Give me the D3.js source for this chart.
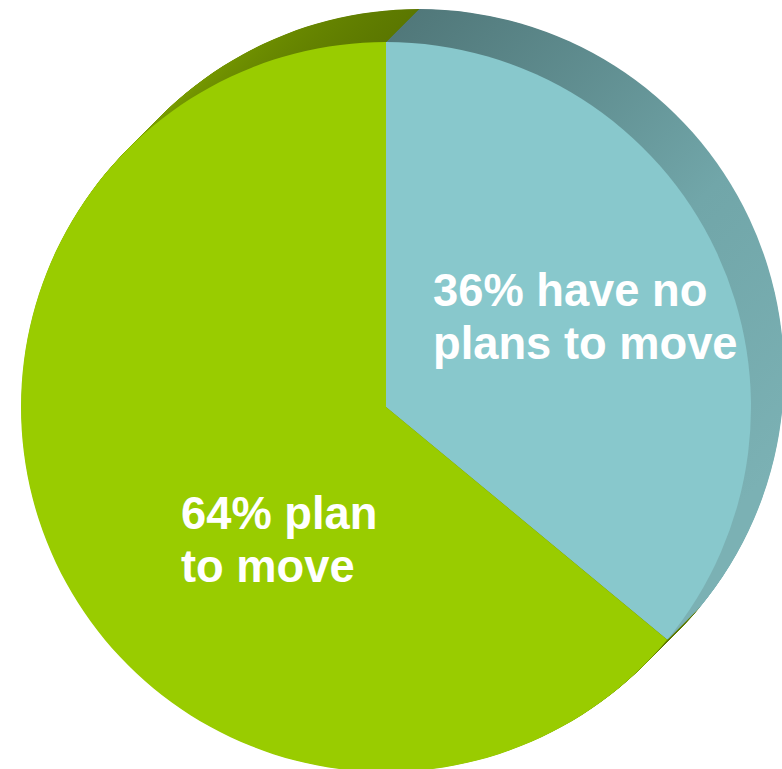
<!DOCTYPE html>
<html>
<head>
<meta charset="utf-8">
<script src="https://cdn.jsdelivr.net/npm/d3@7/dist/d3.min.js"></script>
<style>
  html, body { margin: 0; padding: 0; background: #ffffff; }
  svg { display: block; }
</style>
</head>
<body>
<svg id="chart" width="782" height="769"></svg>
<script>
// Data
const categories = ["have no plans to move", "plan to move"];
const values = [36, 64];
const labelLines = [
  ["36% have no", "plans to move"],
  ["64% plan", "to move"]
];
const frontColors = ["#88c8cc", "#99cc00"];

const W = 782, H = 769;
const cx = 386, cy = 407, R = 365;
const depth = 33;

const svg = d3.select("#chart");
const defs = svg.append("defs");

// side gradients (coordinates relative to the slice centre)
const gTeal = defs.append("linearGradient").attr("id", "sideTeal")
  .attr("gradientUnits", "userSpaceOnUse")
  .attr("x1", 20).attr("y1", -390).attr("x2", 380).attr("y2", 80);
gTeal.append("stop").attr("offset", "0%").attr("stop-color", "#507779");
gTeal.append("stop").attr("offset", "55%").attr("stop-color", "#71a6a9");
gTeal.append("stop").attr("offset", "100%").attr("stop-color", "#7bb1b4");

const gGreen = defs.append("linearGradient").attr("id", "sideGreen")
  .attr("gradientUnits", "userSpaceOnUse")
  .attr("x1", 20).attr("y1", -390).attr("x2", -260).attr("y2", -260);
gGreen.append("stop").attr("offset", "0%").attr("stop-color", "#587300");
gGreen.append("stop").attr("offset", "100%").attr("stop-color", "#7a9e00");

const sideFills = ["url(#sideTeal)", "url(#sideGreen)"];

const pie = d3.pie().sort(null).value(d => d).startAngle(0).endAngle(2 * Math.PI);
const arcs = pie(values);
const arc = d3.arc().innerRadius(0).outerRadius(R);

// extrusion layers (back to front)
const sideG = svg.append("g");
for (let i = depth; i >= 0.5; i -= 0.5) {
  const layer = sideG.append("g").attr("transform", `translate(${cx + i},${cy - i})`);
  layer.selectAll("path").data(arcs).join("path")
    .attr("d", arc)
    .attr("fill", (d, k) => sideFills[k]);
}

// front face
const front = svg.append("g").attr("transform", `translate(${cx},${cy})`);
front.selectAll("path").data(arcs).join("path")
  .attr("d", arc)
  .attr("fill", (d, k) => frontColors[k]);

// labels
const labelPos = [
  { x: 433, y: 306 },
  { x: 181, y: 529 }
];
const lineH = 53;
labelLines.forEach((lines, k) => {
  const t = svg.append("text")
    .attr("x", labelPos[k].x).attr("y", labelPos[k].y)
    .attr("fill", "#ffffff")
    .attr("font-family", "'Liberation Sans', Arial, sans-serif")
    .attr("font-weight", "bold")
    .attr("font-size", 45.3);
  lines.forEach((ln, j) => {
    t.append("tspan").attr("x", labelPos[k].x).attr("dy", j === 0 ? 0 : lineH).text(ln);
  });
});
</script>
</body>
</html>
